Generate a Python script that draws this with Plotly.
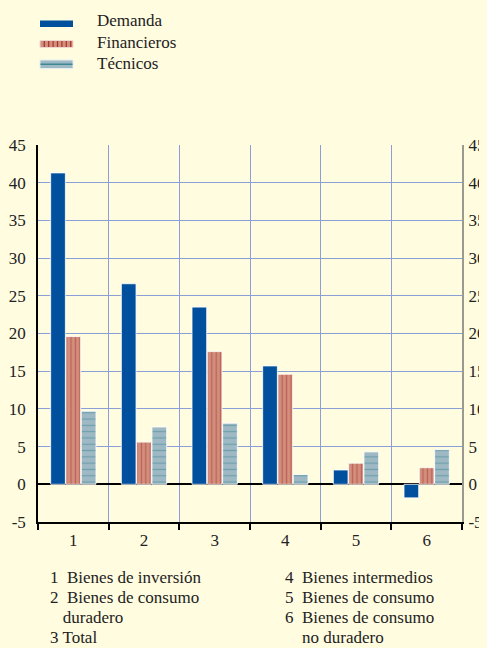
import plotly.graph_objects as go

categories = ["1", "2", "3", "4", "5", "6"]
demanda = [41.3, 26.6, 23.5, 15.7, 1.9, -1.8]
financieros = [19.6, 5.6, 17.6, 14.6, 2.8, 2.2]
tecnicos = [9.7, 7.6, 8.1, 1.3, 4.3, 4.6]
y_ticks = [-5, 0, 5, 10, 15, 20, 25, 30, 35, 40, 45]
y_tick_labels = ["-5", "0", "5", "10", "15", "20", "25", "30", "35", "40", "45"]
legend_names = ["Demanda", "Financieros", "Técnicos"]
notes_left = ["1  Bienes de inversión", "2  Bienes de consumo", "   duradero", "3 Total"]
notes_right = ["4  Bienes intermedios", "5  Bienes de consumo", "6  Bienes de consumo", "    no duradero"]

BG = "#FFFCE0"
BLUE = "#00509E"
PINK = "#D28F7E"
DARKRED = "#A5352B"
GREYBLUE = "#9FB9C4"
TEAL = "#3C8893"
GRID = "#8A9ED8"
FONT = "Liberation Serif"
TXT = "#222222"

OFF = 8  # page body margin
W, H = 487 - OFF, 648 - OFF
L, R, T = 38 - OFF, 25, 145 - OFF
B = H - (522 - OFF)
PW, PH = W - L - R, H - T - B

def px(x):
    return (x - OFF - L) / PW

def py(y):
    return (T + PH - (y - OFF)) / PH

edge = dict(color="rgba(255,255,255,0.8)", width=1)

fig = go.Figure()
fig.add_trace(go.Bar(x=categories, y=demanda, name=legend_names[0],
                     marker=dict(color=BLUE, line=edge)))
fig.add_trace(go.Bar(x=categories, y=financieros, name=legend_names[1],
                     marker=dict(color=PINK, line=edge,
                                 pattern=dict(shape="|", fgcolor=DARKRED, bgcolor=PINK,
                                              size=4.4, solidity=0.3, fillmode="overlay"))))
fig.add_trace(go.Bar(x=categories, y=tecnicos, name=legend_names[2],
                     marker=dict(color=GREYBLUE, line=edge,
                                 pattern=dict(shape="-", fgcolor=TEAL, bgcolor=GREYBLUE,
                                              size=6.3, solidity=0.2, fillmode="overlay"))))
# invisible trace to anchor the mirrored right axis
fig.add_trace(go.Scatter(x=categories, y=demanda, yaxis="y2", mode="markers",
                         marker=dict(opacity=0), showlegend=False, hoverinfo="skip"))

shapes = []
shapes.append(dict(type="rect", xref="paper", yref="paper", x0=px(40), x1=px(73),
                   y0=py(27), y1=py(20.5), fillcolor=BLUE, line=dict(width=0)))
shapes.append(dict(type="rect", xref="paper", yref="paper", x0=px(40), x1=px(73),
                   y0=py(47.5), y1=py(40.5), fillcolor=PINK, line=dict(color="#F0D8D0", width=1)))
for k in range(7):
    xx = 44.3 + 4.4 * k
    shapes.append(dict(type="line", xref="paper", yref="paper", x0=px(xx), x1=px(xx),
                       y0=py(47), y1=py(41), line=dict(color=DARKRED, width=1.2)))
shapes.append(dict(type="rect", xref="paper", yref="paper", x0=px(40), x1=px(73),
                   y0=py(68.5), y1=py(60), fillcolor=GREYBLUE, line=dict(color="#E4EEF2", width=1)))
shapes.append(dict(type="line", xref="paper", yref="paper", x0=px(40.5), x1=px(72.5),
                   y0=py(64.3), y1=py(64.3), line=dict(color=TEAL, width=1.5)))

annotations = []
for i, name in enumerate(legend_names):
    annotations.append(dict(text=name, xref="paper", yref="paper", x=px(95), y=py([20.5, 42, 63][i]),
                            xanchor="left", yanchor="middle", showarrow=False,
                            font=dict(family=FONT, size=17, color=TXT)))

def nb(s):
    lead = len(s) - len(s.lstrip(" "))
    return "&nbsp;" * lead + s.lstrip(" ")

for i, line in enumerate(notes_left):
    annotations.append(dict(text=nb(line), xref="paper", yref="paper", x=px(48), y=py(577 + 20.3 * i),
                            xanchor="left", yanchor="middle", showarrow=False,
                            font=dict(family=FONT, size=17, color=TXT)))
for i, line in enumerate(notes_right):
    annotations.append(dict(text=nb(line), xref="paper", yref="paper", x=px(283), y=py(577 + 20.3 * i),
                            xanchor="left", yanchor="middle", showarrow=False,
                            font=dict(family=FONT, size=17, color=TXT)))

fig.update_layout(
    template="none",
    width=W, height=H,
    margin=dict(l=L, r=R, t=T, b=B, pad=0, autoexpand=False),
    paper_bgcolor=BG, plot_bgcolor=BG,
    barmode="group", bargap=0.35, bargroupgap=0.04,
    showlegend=False,
    font=dict(family=FONT, size=17, color=TXT),
    xaxis=dict(type="category", automargin=False, showgrid=True, gridcolor=GRID, gridwidth=1,
               tickson="boundaries", ticks="outside", ticklen=6, tickcolor="black", tickwidth=1.5,
               showline=True, linecolor="black", linewidth=1.5,
               tickfont=dict(family=FONT, size=17, color=TXT), ticklabelstandoff=2),
    yaxis=dict(range=[-5, 45], tickvals=y_ticks, ticktext=y_tick_labels, automargin=False,
               showgrid=True, gridcolor=GRID, gridwidth=1,
               zeroline=True, zerolinecolor="black", zerolinewidth=1.5,
               showline=True, linecolor="black", linewidth=1.5, ticks="",
               tickfont=dict(family=FONT, size=17, color=TXT), ticklabelstandoff=7),
    yaxis2=dict(range=[-5, 45], tickvals=y_ticks, ticktext=y_tick_labels, automargin=False,
                overlaying="y", side="right",
                showgrid=False, zeroline=False, showline=True, linecolor="#9A9A90", linewidth=2,
                ticks="", tickfont=dict(family=FONT, size=17, color=TXT), ticklabelstandoff=1),
    shapes=shapes, annotations=annotations,
)

fig.write_html("out.html",
               post_script="document.body.style.background='%s';"
                           "document.documentElement.style.background='%s';"
                           "document.body.style.overflow='hidden';"
                           "document.documentElement.style.overflow='hidden';" % (BG, BG))
